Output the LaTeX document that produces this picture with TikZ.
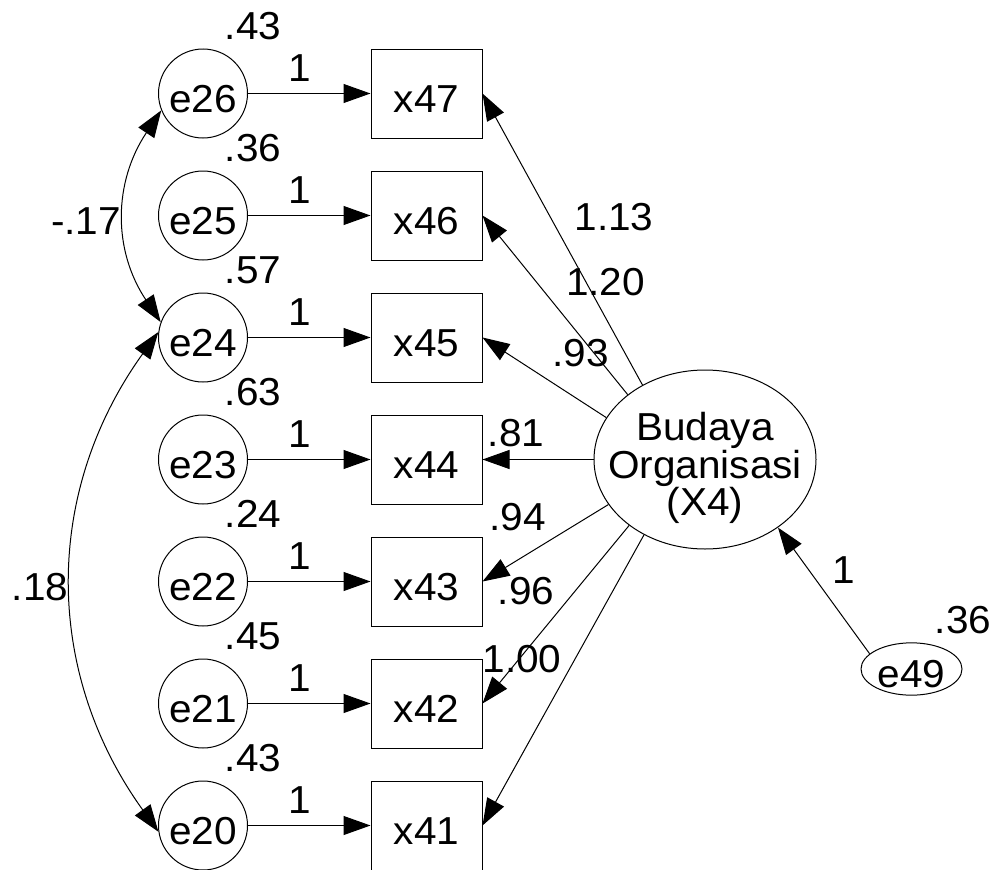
\documentclass[tikz,border=0pt]{standalone}
\usepackage{fontspec}
\setmainfont{Liberation Sans}[FakeStretch=1.04]
\usetikzlibrary{arrows.meta,shapes.geometric}
\begin{document}
\begin{tikzpicture}[x=1pt,y=-1pt,
  every node/.style={font=\fontsize{39}{37.5}\selectfont},
  errc/.style={circle,draw,line width=1pt,minimum size=89pt,inner sep=0pt,
    text height=37pt,text depth=0pt},
  obs/.style={rectangle,draw,line width=1pt,minimum width=111pt,
    minimum height=89pt,inner sep=0pt,text height=37pt,text depth=0pt},
  lat/.style={ellipse,draw,line width=1pt,minimum width=222pt,
    minimum height=179pt,inner sep=0pt},
  erre/.style={ellipse,draw,line width=1pt,minimum width=101pt,
    minimum height=52pt,inner sep=0pt,text height=37pt,text depth=0pt},
  val/.style={inner sep=0pt},
  arr/.style={-{Triangle[length=27pt,width=19pt]},line width=1pt},
  cov/.style={{Triangle[length=27pt,width=19pt]}-{Triangle[length=27pt,width=19pt]},line width=1pt}]

\useasboundingbox (0,0) rectangle (993,870);
\clip (0,0) rectangle (993,869.3);

% error terms, indicators, fixed paths and variances
\foreach \e/\x/\v [count=\i from 0] in
  {e26/x47/.43, e25/x46/.36, e24/x45/.57, e23/x44/.63,
   e22/x43/.24, e21/x42/.45, e20/x41/.43} {
  \pgfmathsetmacro{\ry}{93.5+122*\i}
  \node[errc] (\e) at (203,\ry) {\e};
  \node[obs]  (\x) at (426.5,\ry) {\x};
  \draw[arr] (\e) -- (\x);
  \node[val] (w\e) at (300,\ry-25) {1};
  \node[val] (v\e) at (253,\ry-67.5) {\v};
}

% latent factor
\node[lat] (bud) at (705,459.5) {};
\node[align=center,inner sep=0pt] (budtext) at (705,468)
  {Budaya\\Organisasi\\(X4)};

% disturbance of the factor
\node[erre] (e49) at (911.5,669) {e49};
\draw[arr] (e49.160) -- (bud.317);
\node[val] (w49) at (844,570) {1};
\node[val] (v49) at (963,620) {.36};

% factor loadings
\draw[arr] (bud.130) -- (x47.east);
\draw[arr] (bud.140) -- (x46.east);
\draw[arr] (bud.157) -- (x45.east);
\draw[arr] (bud.180) -- (x44.east);
\draw[arr] (bud.205) -- (x43.east);
\draw[arr] (bud.221) -- (x42.east);
\draw[arr] (bud.231) -- (x41.east);
\node[val] (l47) at (614,217)     {1.13};
\node[val] (l46) at (605.5,282.5) {1.20};
\node[val] (l45) at (580.5,353)   {.93};
\node[val] (l44) at (516,433.5)   {.81};
\node[val] (l43) at (517.5,517.5) {.94};
\node[val] (l42) at (526,591.5)   {.96};
\node[val] (l41) at (522,659)     {1.00};

% error covariances
\draw[cov] (e26.202) .. controls +(-48,72) and +(-48,-72) .. (e24.160);
\draw[cov] (e24.173) .. controls +(-115,160) and +(-115,-160) .. (e20.188);
\node[val] (c1) at (86,221)  {-.17};
\node[val] (c2) at (40,587.5) {.18};
\end{tikzpicture}
\end{document}
